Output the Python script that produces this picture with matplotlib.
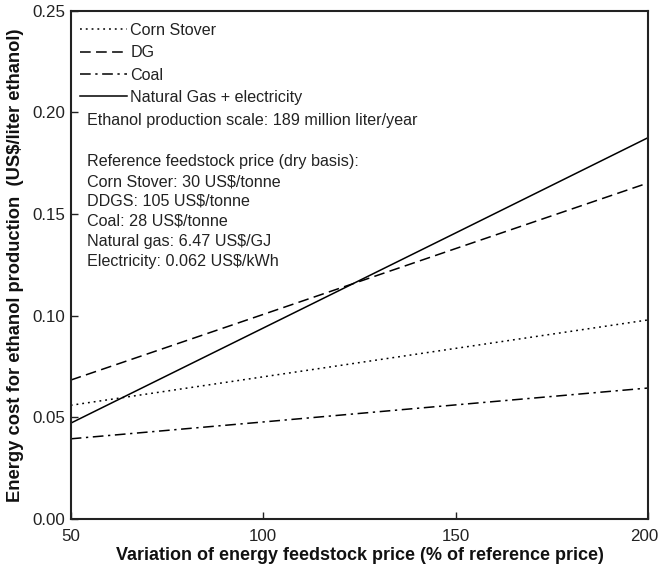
import matplotlib
matplotlib.use("Agg")
import matplotlib.pyplot as plt
from matplotlib.transforms import ScaledTranslation

plt.rcParams['font.family'] = ['Liberation Sans', 'DejaVu Sans']

# price variation (% of reference price)
price_pct = [50, 100, 150, 200]

# energy cost (US$/liter ethanol)
corn_stover = [0.056, 0.070, 0.084, 0.098]
dg = [0.0684, 0.1007, 0.1331, 0.1654]
coal = [0.0395, 0.0478, 0.0562, 0.0645]
ng_elec = [0.0472, 0.0940, 0.1408, 0.1877]

series_names = ["Corn Stover", "DG", "Coal", "Natural Gas + electricity"]

info_lines = [
    "Reference feedstock price (dry basis):",
    "Corn Stover: 30 US$/tonne",
    "DDGS: 105 US$/tonne",
    "Coal: 28 US$/tonne",
    "Natural gas: 6.47 US$/GJ",
    "Electricity: 0.062 US$/kWh",
]

fig = plt.figure(figsize=(6.61, 5.68), dpi=100)
ax = fig.add_axes([0.107, 0.086, 0.874, 0.895])

lw = 1.1
ax.plot(price_pct, corn_stover, color='k', lw=lw, linestyle=(0, (1.2, 2.6)), label=series_names[0])
ax.plot(price_pct, dg, color='k', lw=lw, linestyle=(0, (7, 3.5)), label=series_names[1])
ax.plot(price_pct, coal, color='k', lw=lw, linestyle=(0, (7, 3, 1.5, 3)), label=series_names[2])
ax.plot(price_pct, ng_elec, color='k', lw=lw, linestyle='-', label=series_names[3])

ax.set_xlim(50, 200)
ax.set_ylim(0, 0.25)
ax.set_xticks([50, 100, 150, 200])
ax.set_yticks([0.0, 0.05, 0.10, 0.15, 0.20, 0.25])
ax.set_yticklabels(["0.00", "0.05", "0.10", "0.15", "0.20", "0.25"])
ax.tick_params(direction='in', length=5, width=1, labelsize=12.2, colors='#222222')
ax.tick_params(axis='x', pad=7)
ax.tick_params(axis='y', pad=4)
for s in ax.spines.values():
    s.set_linewidth(1.5)
    s.set_color('#222222')

# nudge the last x label in so it stays inside the figure
last = ax.get_xticklabels()[-1]
last.set_transform(last.get_transform() + ScaledTranslation(-3 / 72, 0, fig.dpi_scale_trans))

ax.set_xlabel("Variation of energy feedstock price (% of reference price)",
              fontsize=13, fontweight='bold', labelpad=2, color='#111111')
ax.set_ylabel("Energy cost for ethanol production  (US$/liter ethanol)",
              fontsize=13.2, fontweight='bold', labelpad=6, color='#111111')

leg = ax.legend(loc='upper left', frameon=False, fontsize=11.6,
                handlelength=2.9, handletextpad=0.2, labelspacing=0.45,
                borderaxespad=0.2, bbox_to_anchor=(0.0, 0.995))
for t in leg.get_texts():
    t.set_color('#222222')

ax.text(0.028, 0.785, "Ethanol production scale: 189 million liter/year",
        transform=ax.transAxes, fontsize=11.6, va='center', ha='left', color='#222222')
ax.text(0.028, 0.718, "\n".join(info_lines),
        transform=ax.transAxes, fontsize=11.6, va='top', ha='left',
        linespacing=1.41, color='#222222')

fig.savefig("out.png", dpi=100)
